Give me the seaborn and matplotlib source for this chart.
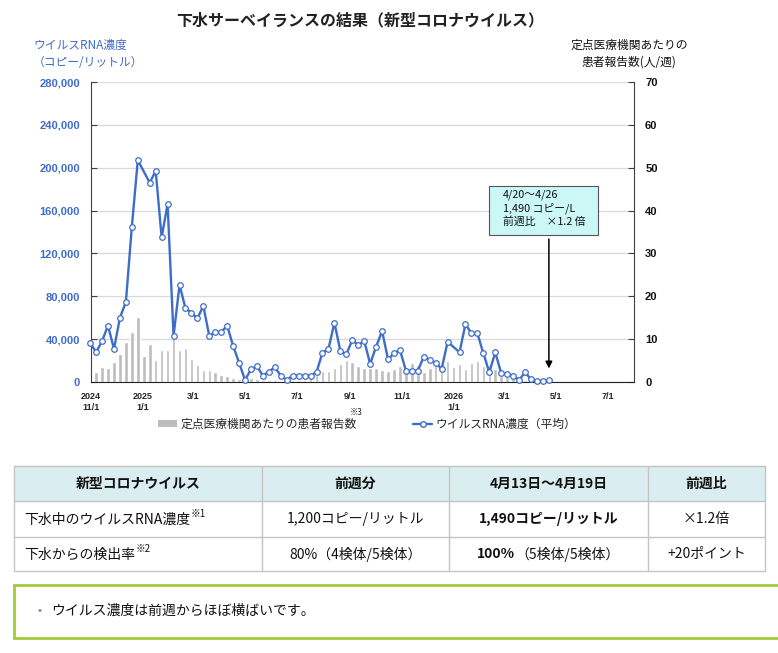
import numpy as np
import pandas as pd
import matplotlib
matplotlib.use("Agg")
import matplotlib.pyplot as plt
import matplotlib.dates as mdates
from matplotlib.patches import Rectangle, Patch
from matplotlib.lines import Line2D
import seaborn as sns

W, H = 778, 653

# --- データ（週ごと、木曜日を代表日とする）---
week_start = "2024-10-31"
n_weeks = 78
rna_conc = [36700, 27700, 38200, 52600, 30800, 60000, 74700, 145000, 207000, np.nan,
            186000, 197000, 135000, 166000, 43000, 90600, 68800, 64700, 59400, 70900,
            42900, 46700, 46700, 52600, 33600, 18000, 1900, 11800, 14600, 6000,
            9800, 13700, 5900, 1900, 5900, 5900, 5900, 5900, 9300, 27400,
            30800, 55400, 28900, 25800, 39200, 34500, 38600, 16800, 33000, 47600,
            21200, 26800, 29900, 10600, 10300, 10600, 23600, 20500, 18000, 12100,
            37600, np.nan, 27700, 54100, 45400, 45400, 26800, 9000, 27700, 8100,
            7500, 5900, 1900, 9000, 2500, 500, 1200, 1490]
patients = [2.1, 2.3, 3.5, 3.3, 4.6, 6.6, 9.3, 11.7, 15.1, 6.0,
            8.9, 5.2, 7.5, 7.5, 10.2, 7.5, 7.9, 5.4, 4.0, 2.9,
            2.7, 2.3, 1.6, 1.5, 0.9, 0.8, 1.0, 0.9, 0.6, 0.4,
            0.5, 0.5, 0.3, 0.5, 0.5, 0.5, 0.5, 0.9, 1.6, 2.6,
            2.6, 3.2, 4.2, 5.1, 4.7, 3.8, 3.2, 3.2, 3.2, 2.8,
            2.6, 3.0, 3.7, 3.6, 4.4, 4.0, 2.4, 3.2, 4.0, 4.4,
            5.0, 3.4, 4.2, 3.0, 4.4, 5.0, 3.8, 4.0, 3.0, 1.5,
            1.2, 0.9, 0.6, 0.5, 0.4, 0.3, 0.2, 0.2]

tick_dates = ["2024-11-01", "2025-01-01", "2025-03-01", "2025-05-01", "2025-07-01",
              "2025-09-01", "2025-11-01", "2026-01-01", "2026-03-01", "2026-05-01",
              "2026-07-01"]
tick_labels = ["2024\n11/1", "2025\n1/1", "3/1", "5/1", "7/1", "9/1", "11/1",
               "2026\n1/1", "3/1", "5/1", "7/1"]

table_header = ["新型コロナウイルス", "前週分", "4月13日～4月19日", "前週比"]
row1 = ["下水中のウイルスRNA濃度", "1,200コピー/リットル", "1,490コピー/リットル", "×1.2倍"]
row2 = ["下水からの検出率", "80%（4検体/5検体）", ("100%", "（5検体/5検体）"), "+20ポイント"]

blue = "#3E6DC8"
gray_bar = "#BDBDBD"

df = pd.DataFrame({"date": pd.date_range(week_start, periods=n_weeks, freq="7D"),
                   "rna": rna_conc, "patients": patients})
df["x"] = mdates.date2num(df["date"])

sns.set_style("white")
plt.rcParams["font.family"] = ["Noto Sans CJK JP", "DejaVu Sans"]


def fx(px):
    return px / W


def fy(py):
    return 1 - py / H


fig = plt.figure(figsize=(W / 100, H / 100), dpi=100)
ax = fig.add_axes([fx(91), fy(382), 543 / W, 300 / H])
ax2 = ax.twinx()
ax.set_zorder(ax2.get_zorder() + 1)
ax.patch.set_visible(False)

# 患者報告数（棒、右軸）
sns.barplot(data=df, x="x", y="patients", native_scale=True, color=gray_bar,
            saturation=1, width=0.6, errorbar=None, ax=ax2, zorder=2)
# ウイルスRNA濃度（折れ線、左軸）
sns.lineplot(data=df.dropna(subset=["rna"]), x="x", y="rna", ax=ax, color=blue,
             linewidth=1.7, marker="o", markersize=4, markerfacecolor="white",
             markeredgecolor=blue, markeredgewidth=0.9, clip_on=False, zorder=3)

ax.set_xlim(mdates.date2num(pd.Timestamp("2024-11-01")),
            mdates.date2num(pd.Timestamp("2026-08-01")))
ax.set_ylim(0, 280000)
ax2.set_ylim(0, 70)
ax.set_yticks(np.arange(0, 280001, 40000))
ax.set_yticklabels([f"{v:,}" for v in range(0, 280001, 40000)])
ax2.set_yticks(np.arange(0, 71, 10))
ax.set_xticks(mdates.date2num(pd.to_datetime(tick_dates)))
ax.set_xticklabels(tick_labels)
ax.set_xlabel("")
ax.set_ylabel("")
ax2.set_ylabel("")
ax2.set_xlabel("")

ax2.yaxis.grid(True, color="#D9D9D9", linewidth=0.9)
ax2.set_axisbelow(True)
ax.grid(False)

for a in (ax, ax2):
    a.spines["top"].set_visible(False)
ax.spines["right"].set_visible(False)
ax2.spines["left"].set_visible(False)
ax.spines["left"].set_color("#404040")
ax2.spines["right"].set_color("#404040")
ax.spines["bottom"].set_color("#202020")
ax2.spines["bottom"].set_visible(False)

ax.tick_params(axis="y", direction="in", length=4, color="#404040", labelcolor=blue,
               labelsize=8, pad=8)
ax2.tick_params(axis="y", direction="in", length=4, color="#404040", labelcolor="#111111",
                labelsize=8, pad=8)
ax.tick_params(axis="x", direction="out", length=4, color="#202020", labelsize=6.5, pad=3)
ax2.tick_params(axis="x", bottom=False, labelbottom=False)
for lab in ax.get_yticklabels() + ax2.get_yticklabels() + ax.get_xticklabels():
    lab.set_fontweight("bold")
    lab.set_family(["Liberation Sans", "DejaVu Sans"])
for lab in ax.get_xticklabels():
    lab.set_linespacing(1.3)

# タイトル・軸ラベル
fig.text(fx(360), fy(20), "下水サーベイランスの結果（新型コロナウイルス）", ha="center",
         va="center", fontsize=11.5, fontweight="bold", color="#222222")
fig.text(fx(33), fy(39), "ウイルスRNA濃度\n（コピー/リットル）", ha="left", va="top",
         fontsize=8.5, color=blue, linespacing=1.35)
fig.text(fx(629), fy(39), "定点医療機関あたりの\n患者報告数(人/週)", ha="center", va="top",
         fontsize=8.5, color="#111111", linespacing=1.35)

# 注釈ボックスと矢印
last = df.iloc[-1]
ax.annotate("", xy=(last["x"], 10000), xytext=(last["x"], 136000),
            arrowprops=dict(arrowstyle="-|>", color="black", lw=1.1, mutation_scale=10),
            zorder=5)
fig.add_artist(Rectangle((fx(489), fy(235)), 109 / W, 49 / H, transform=fig.transFigure,
                         facecolor="#CCF7F7", edgecolor="#555555", linewidth=0.8, zorder=5))
fig.text(fx(503), fy(189), "4/20～4/26\n1,490 コピー/L\n前週比　×1.2 倍", ha="left",
         va="top", fontsize=7.8, color="#111111", linespacing=1.3, zorder=6)

# 凡例
handles = [Patch(facecolor=gray_bar, edgecolor="none"),
           Line2D([0], [0], color=blue, lw=1.7, marker="o", markersize=4,
                  markerfacecolor="white", markeredgecolor=blue)]
fig.legend(handles, ["定点医療機関あたりの患者報告数", "ウイルスRNA濃度（平均）"],
           loc="center", bbox_to_anchor=(fx(367), fy(424)), ncol=2, frameon=False,
           fontsize=8.5, columnspacing=4.8, handlelength=1.6, handletextpad=0.3,
           handleheight=0.5)
fig.text(fx(356), fy(412), "※3", ha="center", va="center", fontsize=6, color="#222222")

# 表
col_x = [14, 262, 449, 648, 765]
row_y = [466, 501, 537, 571]
line_c = "#C4C4C4"
fig.add_artist(Rectangle((fx(col_x[0]), fy(row_y[1])), (col_x[-1] - col_x[0]) / W,
                         (row_y[1] - row_y[0]) / H, transform=fig.transFigure,
                         facecolor="#DAEEF1", edgecolor="none"))
for yy in row_y:
    fig.add_artist(Line2D([fx(col_x[0]), fx(col_x[-1])], [fy(yy), fy(yy)],
                          transform=fig.transFigure, color=line_c, lw=1))
for xx in col_x:
    fig.add_artist(Line2D([fx(xx), fx(xx)], [fy(row_y[0]), fy(row_y[-1])],
                          transform=fig.transFigure, color=line_c, lw=1))

centers = [(col_x[i] + col_x[i + 1]) / 2 for i in range(4)]
for i, s in enumerate(table_header):
    fig.text(fx(centers[i]), fy(484), s, ha="center", va="center", fontsize=10,
             fontweight="bold", color="#111111")

renderer = fig.canvas.get_renderer()


def with_note(x, y, s, note):
    t = fig.text(fx(x), fy(y), s, ha="left", va="center", fontsize=10, color="#111111")
    bb = t.get_window_extent(renderer)
    fig.text(bb.x1 / W + 0.001, fy(y - 6), note, ha="left", va="center", fontsize=7,
             color="#111111")


with_note(24, 520, row1[0], "※1")
with_note(24, 555, row2[0], "※2")

fig.text(fx(centers[1]), fy(519), row1[1], ha="center", va="center", fontsize=10, color="#111111")
fig.text(fx(centers[2]), fy(519), row1[2], ha="center", va="center", fontsize=10,
         fontweight="bold", color="#111111")
fig.text(fx(centers[3]), fy(519), row1[3], ha="center", va="center", fontsize=10, color="#111111")
fig.text(fx(centers[1]), fy(554), row2[1], ha="center", va="center", fontsize=10, color="#111111")
fig.text(fx(centers[3]), fy(554), row2[3], ha="center", va="center", fontsize=10, color="#111111")

tb = fig.text(0, fy(554), row2[2][0], ha="left", va="center", fontsize=10,
              fontweight="bold", color="#111111")
tn = fig.text(0, fy(554), row2[2][1], ha="left", va="center", fontsize=10, color="#111111")
wb = tb.get_window_extent(renderer).width
wn = tn.get_window_extent(renderer).width
x0 = centers[2] - (wb + wn) / 2
tb.set_x(fx(x0))
tn.set_x(fx(x0 + wb))

# コメント枠
fig.add_artist(Rectangle((fx(14), fy(638)), (790 - 14) / W, 53 / H, transform=fig.transFigure,
                         facecolor="white", edgecolor="#A2CB3C", linewidth=2))
fig.text(fx(40), fy(611), "•", ha="center", va="center", fontsize=9, color="#888888")
fig.text(fx(51), fy(611), "ウイルス濃度は前週からほぼ横ばいです。", ha="left", va="center",
         fontsize=10, color="#111111")

fig.savefig("out.png", dpi=100)
